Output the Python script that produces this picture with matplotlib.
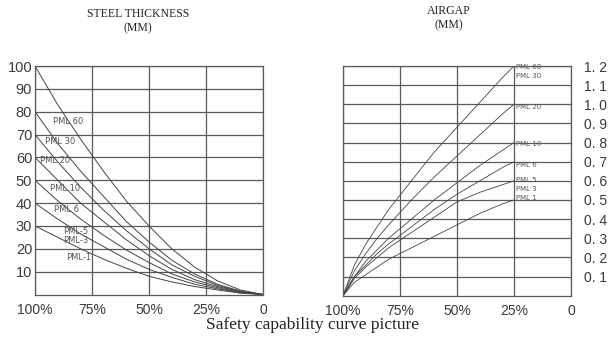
import matplotlib.pyplot as plt
import numpy as np

# capability axis (percent), shared by both panels
steel_x = [100, 90, 80, 70, 60, 50, 40, 30, 20, 10, 0]
steel_curves = {
    'PML 60': [100, 83, 68, 54, 41, 30, 20, 12, 6, 2, 0],
    'PML 30': [80, 66, 54, 43, 32, 23, 15, 9, 4.5, 1.5, 0],
    'PML 20': [70, 58, 47, 37, 28, 20, 13, 8, 4, 1.3, 0],
    'PML 10': [60, 50, 40, 32, 24, 17, 11, 6.5, 3.5, 1.2, 0],
    'PML 6': [50, 41, 33, 26, 19.5, 14, 9, 5.5, 3, 1, 0],
    'PML 5': [40, 33, 26.5, 21, 15.5, 11, 7.5, 4.5, 2.5, 0.8, 0],
    'PML 3': [30, 25, 20, 15.5, 11.5, 8, 5.5, 3.5, 2, 0.6, 0],
}
steel_labels = ['PML 60', 'PML 30', 'PML 20', 'PML 10', 'PML 6', 'PML-5', 'PML-3', 'PML-1']
steel_label_x = [92, 95.5, 97.8, 93.4, 91.7, 87.7, 87.7, 86.4]
steel_label_y = [75.6, 66.8, 58.8, 46.6, 37, 27.5, 23.5, 16]

gap_x = [100, 95, 90, 85, 80, 70, 60, 50, 40, 30, 25]
gap_curves = {
    'PML 60': [0, 0.16, 0.27, 0.36, 0.45, 0.60, 0.75, 0.88, 1.01, 1.14, 1.2],
    'PML 20': [0, 0.13, 0.22, 0.30, 0.37, 0.50, 0.62, 0.73, 0.84, 0.95, 1.0],
    'PML 10': [0, 0.10, 0.18, 0.24, 0.30, 0.40, 0.50, 0.59, 0.68, 0.76, 0.8],
    'PML 6': [0, 0.10, 0.16, 0.22, 0.27, 0.36, 0.45, 0.53, 0.60, 0.67, 0.7],
    'PML 5': [0, 0.09, 0.15, 0.20, 0.25, 0.33, 0.41, 0.49, 0.54, 0.58, 0.6],
    'PML 1': [0, 0.07, 0.11, 0.15, 0.19, 0.25, 0.31, 0.37, 0.43, 0.48, 0.5],
}
gap_labels = ['PML 60', 'PML 30', 'PML 20', 'PML 10', 'PML 6', 'PML 5', 'PML 3', 'PML 1']
gap_label_y = [1.195, 1.148, 0.986, 0.79, 0.684, 0.602, 0.556, 0.51]

x_ticks = [100, 75, 50, 25, 0]
x_ticklabels = ['100%', '75%', '50%', '25%', '0']
steel_ticks = [10, 20, 30, 40, 50, 60, 70, 80, 90, 100]
gap_ticks = [0.1, 0.2, 0.3, 0.4, 0.5, 0.6, 0.7, 0.8, 0.9, 1.0, 1.1, 1.2]

line_c = '#444444'
grid_c = '#5a5a5a'
text_c = '#3a3a3a'

fig = plt.figure(figsize=(6.1, 3.41), dpi=100)
fig.patch.set_facecolor('white')

ax1 = fig.add_axes([35 / 610, 1 - 294.5 / 341, 228 / 610, 228.5 / 341])
ax2 = fig.add_axes([343 / 610, 1 - 295.7 / 341, 228 / 610, 229.7 / 341])

for ax in (ax1, ax2):
    ax.set_xlim(100, 0)
    ax.set_xticks(x_ticks)
    ax.set_xticklabels(x_ticklabels, fontsize=10, color=text_c, family='Liberation Sans')
    ax.tick_params(length=0, pad=6)
    ax.grid(True, color=grid_c, lw=0.9)
    for s in ax.spines.values():
        s.set_color(grid_c)
        s.set_linewidth(0.9)

# steel thickness panel
ax1.set_ylim(0, 100)
ax1.set_yticks(steel_ticks)
ax1.set_yticklabels([str(v) for v in steel_ticks], fontsize=10.5, color=text_c, family='Liberation Sans')
ax1.tick_params(axis='y', pad=2)
for name, vals in steel_curves.items():
    ax1.plot(steel_x, vals, color=line_c, lw=0.7)
for lab, lx, ly in zip(steel_labels, steel_label_x, steel_label_y):
    ax1.text(lx, ly, lab, fontsize=6, color='#555555', va='center', ha='left')

# airgap panel
ax2.set_ylim(0, 1.2)
ax2.yaxis.tick_right()
ax2.set_yticks(gap_ticks)
ax2.set_yticklabels(['%d. %d' % (int(v), round(v * 10) % 10) for v in gap_ticks],
                    fontsize=10, color=text_c, family='Liberation Sans')
ax2.tick_params(axis='y', pad=9)
for name, vals in gap_curves.items():
    ax2.plot(gap_x, vals, color=line_c, lw=0.6)
for lab, ly in zip(gap_labels, gap_label_y):
    ax2.text(24.2, ly, lab, fontsize=5, color='#555555', va='center', ha='left')

# headings
head = dict(ha='center', va='center', fontsize=8.5, family='Liberation Serif', color='#222222')
fig.text(138 / 610, 1 - 14 / 341, 'STEEL THICKNESS', **head)
fig.text(138 / 610, 1 - 28 / 341, '(MM)', **head)
fig.text(449 / 610, 1 - 11 / 341, 'AIRGAP', **head)
fig.text(449 / 610, 1 - 25 / 341, '(MM)', **head)
fig.text(312 / 610, 1 - 329 / 341, 'Safety capability curve picture', ha='center', va='baseline',
         fontsize=12.5, family='Liberation Serif', color='#222222')

fig.savefig('out.png', dpi=100, facecolor='white')
